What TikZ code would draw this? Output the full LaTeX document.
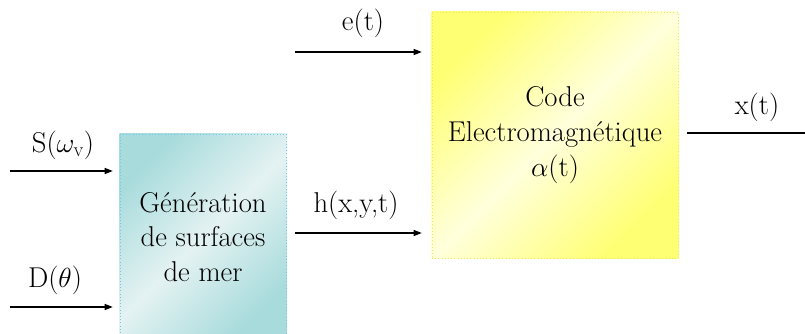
\documentclass[tikz,border=0pt]{standalone}
\usepackage{fontspec}
\usepackage{tikz}
\usetikzlibrary{arrows.meta, positioning, backgrounds}
\definecolor{seadark}{RGB}{168, 219, 220}
\definecolor{sealt}{RGB}{228, 242, 242}
\definecolor{seaedge}{RGB}{110, 200, 235}
\definecolor{emdark}{RGB}{255, 255, 115}
\definecolor{emlt}{RGB}{255, 255, 220}
\definecolor{emedge}{RGB}{240, 230, 90}

\tikzset{
  sig/.style={-{Triangle[length=6pt, width=4.5pt]}, line width=0.9pt},
  lbl/.style={font=\fontsize{21.5}{25}\selectfont, inner sep=0pt},
  blocktxt/.style={font=\fontsize{21.5}{26}\selectfont, align=center, inner sep=0pt}
}

\begin{document}
\begin{tikzpicture}[x=0.75pt, y=0.75pt]

  % Frame
  \clip (0,0) rectangle (805,333);

  % Blocks
  \node[blocktxt, draw=seaedge, dotted,
        minimum width=124.5pt, minimum height=154.5pt] (gen) at (203,96)
        {Génération\\de surfaces\\de mer};
  \node[blocktxt, draw=emedge, dotted,
        minimum width=184.5pt, minimum height=184.5pt] (code) at (555,198)
        {Code\\Electromagnétique\\$\alpha$(t)};

  \begin{scope}[on background layer]
    \shade[top color=seadark, bottom color=seadark, middle color=sealt, shading angle=45]
      (gen.south west) rectangle (gen.north east);
    \shade[top color=emdark, bottom color=emdark, middle color=emlt, shading angle=45]
      (code.south west) rectangle (code.north east);
  \end{scope}

  % Inputs
  \coordinate (s-in) at (10,162);
  \coordinate (d-in) at (10,26);
  \coordinate (e-in) at (295,281);
  \coordinate (h-in) at (295,100);
  \coordinate (x-out) at (805,200);

  \draw[sig, shorten >=5.25pt] (s-in) -- (gen.west |- s-in);
  \draw[sig, shorten >=5.25pt] (d-in) -- (gen.west |- d-in);
  \draw[sig, shorten >=7.5pt] (e-in) -- (code.west |- e-in);
  \draw[sig, shorten >=7.5pt] (h-in) -- (code.west |- h-in);
  \draw[line width=0.9pt, shorten <=6.75pt] (code.east |- x-out) -- (x-out);

  % Labels
  \node[lbl] (s-lbl) at (63,188) {S($\omega_{\mathrm{v}}$)};
  \node[lbl] (d-lbl) at (55,53) {D($\theta$)};
  \node[lbl] (e-lbl) at (363,310) {e(t)};
  \node[lbl] (h-lbl) at (356,128) {h(x,y,t)};
  \node[lbl] (x-lbl) at (757,226) {x(t)};

\end{tikzpicture}
\end{document}
